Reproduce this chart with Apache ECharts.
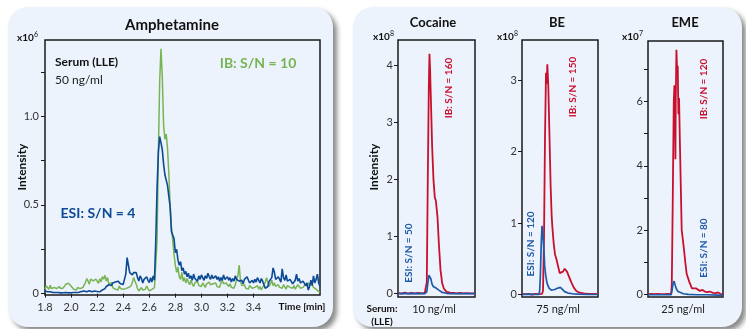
<!DOCTYPE html>
<html><head><meta charset="utf-8">
<script src="https://cdn.jsdelivr.net/npm/echarts@6/dist/echarts.min.js"></script>
<style>html,body{margin:0;padding:0;background:#fff}#c{width:746px;height:329px}</style>
</head><body><div id="c"></div>
<script>
// ---------- Amphetamine (x10^6) ----------
const ampTime = [1.80,1.81,1.82,1.83,1.84,1.85,1.86,1.87,1.88,1.89,
1.90,1.91,1.92,1.93,1.94,1.95,1.96,1.97,1.98,1.99,
2.00,2.01,2.02,2.03,2.04,2.05,2.06,2.07,2.08,2.09,
2.10,2.11,2.12,2.13,2.14,2.15,2.16,2.17,2.18,2.19,
2.20,2.21,2.22,2.23,2.24,2.25,2.26,2.27,2.28,2.29,
2.30,2.31,2.32,2.33,2.34,2.35,2.36,2.37,2.38,2.39,
2.40,2.41,2.42,2.43,2.44,2.45,2.46,2.47,2.48,2.49,
2.50,2.51,2.52,2.53,2.54,2.55,2.56,2.57,2.58,2.59,
2.60,2.61,2.62,2.63,2.64,2.65,2.66,2.67,2.68,2.69,
2.70,2.71,2.72,2.73,2.74,2.75,2.76,2.77,2.78,2.79,
2.80,2.81,2.82,2.83,2.84,2.85,2.86,2.87,2.88,2.89,
2.90,2.91,2.92,2.93,2.94,2.95,2.96,2.97,2.98,2.99,
3.00,3.01,3.02,3.03,3.04,3.05,3.06,3.07,3.08,3.09,
3.10,3.11,3.12,3.13,3.14,3.15,3.16,3.17,3.18,3.19,
3.20,3.21,3.22,3.23,3.24,3.25,3.26,3.27,3.28,3.29,
3.30,3.31,3.32,3.33,3.34,3.35,3.36,3.37,3.38,3.39,
3.40,3.41,3.42,3.43,3.44,3.45,3.46,3.47,3.48,3.49,
3.50,3.51,3.52,3.53,3.54,3.55,3.56,3.57,3.58,3.59,
3.60,3.61,3.62,3.63,3.64,3.65,3.66,3.67,3.68,3.69,
3.70,3.71,3.72,3.73,3.74,3.75,3.76,3.77,3.78,3.79,
3.80,3.81,3.82,3.83,3.84,3.85,3.86,3.87,3.88,3.89,
3.90,3.91];
const ampIB = [0.024,0.043,0.034,0.024,0.047,0.028,0.020,0.034,0.043,0.028,
0.024,0.040,0.028,0.020,0.032,0.043,0.053,0.043,0.058,0.047,
0.043,0.032,0.024,0.028,0.020,0.034,0.043,0.028,0.024,0.034,
0.043,0.062,0.084,0.071,0.053,0.081,0.090,0.071,0.062,0.081,
0.071,0.058,0.084,0.066,0.096,0.081,0.103,0.071,0.090,0.053,
0.043,0.062,0.034,0.043,0.024,0.034,0.020,0.043,0.028,0.024,
0.024,0.015,0.028,0.020,0.034,0.024,0.043,0.062,0.090,0.071,
0.053,0.028,0.015,0.024,0.034,0.020,0.009,0.024,0.043,0.028,
0.015,0.005,0.024,0.015,0.034,0.040,0.300,0.800,1.200,1.380,
1.220,0.950,0.870,0.900,0.820,0.680,0.500,0.380,0.300,0.220,
0.160,0.120,0.150,0.095,0.080,0.120,0.070,0.090,0.060,0.085,
0.065,0.050,0.075,0.055,0.040,0.060,0.050,0.070,0.045,0.055,
0.040,0.060,0.050,0.035,0.055,0.045,0.065,0.050,0.040,0.055,
0.045,0.060,0.040,0.050,0.035,0.060,0.075,0.055,0.045,0.060,
0.050,0.040,0.055,0.035,0.045,0.030,0.050,0.080,0.100,0.160,
0.070,0.045,0.035,0.050,0.030,0.040,0.025,0.045,0.035,0.030,
0.020,0.035,0.030,0.045,0.025,0.040,0.020,0.030,0.050,0.065,
0.090,0.060,0.040,0.055,0.075,0.045,0.060,0.040,0.030,0.050,
0.035,0.045,0.030,0.050,0.040,0.025,0.045,0.055,0.035,0.040,
0.030,0.045,0.025,0.035,0.050,0.040,0.030,0.020,0.035,0.040,
0.055,0.040,0.060,0.045,0.065,0.050,0.035,0.045,0.025,0.015,
0.010,0.008];
const ampESI = [0.015,0.012,0.010,0.008,0.010,0.007,0.006,0.008,0.006,0.005,
0.006,0.005,0.004,0.006,0.005,0.004,0.006,0.005,0.004,0.005,
0.005,0.004,0.006,0.008,0.006,0.005,0.007,0.010,0.012,0.010,
0.014,0.012,0.010,0.013,0.016,0.012,0.010,0.012,0.015,0.013,
0.012,0.015,0.010,0.018,0.020,0.015,0.028,0.040,0.035,0.050,
0.055,0.045,0.060,0.050,0.065,0.058,0.070,0.062,0.055,0.060,
0.052,0.045,0.110,0.203,0.160,0.118,0.110,0.105,0.118,0.110,
0.118,0.090,0.071,0.100,0.085,0.060,0.080,0.071,0.095,0.075,
0.062,0.090,0.065,0.100,0.075,0.300,0.600,0.800,0.885,0.850,
0.810,0.730,0.670,0.640,0.610,0.550,0.490,0.350,0.360,0.310,
0.230,0.250,0.190,0.160,0.180,0.130,0.145,0.110,0.125,0.095,
0.115,0.085,0.100,0.075,0.110,0.085,0.095,0.070,0.100,0.080,
0.105,0.090,0.075,0.100,0.085,0.115,0.095,0.080,0.105,0.085,
0.075,0.100,0.080,0.095,0.070,0.090,0.075,0.105,0.080,0.070,
0.095,0.075,0.090,0.065,0.085,0.070,0.100,0.080,0.090,0.070,
0.060,0.075,0.055,0.080,0.070,0.095,0.085,0.060,0.050,0.075,
0.060,0.080,0.065,0.090,0.075,0.060,0.085,0.070,0.050,0.030,
0.020,0.040,0.070,0.060,0.090,0.145,0.120,0.080,0.070,0.095,
0.080,0.065,0.140,0.090,0.075,0.105,0.070,0.060,0.080,0.070,
0.055,0.065,0.075,0.110,0.070,0.085,0.060,0.050,0.070,0.060,
0.045,0.060,0.020,0.040,0.075,0.045,0.100,0.060,0.080,0.110,
0.060,0.040];
const ampXLabels = [1.8,2.0,2.2,2.4,2.6,2.8,3.0,3.2,3.4];
const ampYTicks = [0,0.25,0.5,0.75,1.0,1.25];
const ampYLabels = [0,0.5,1.0];

// ---------- Cocaine (x10^8) ----------
const cocTime = [0,0.1,0.2,0.3,0.4,0.5,0.6,0.7,0.8,0.83,0.86,0.89,0.92,0.94,0.96,0.98,1.02,1.06,1.10,1.13,1.15,1.18,1.22,1.27,1.32,1.37,1.45,1.55,1.65,1.75,1.85,1.95,2.05,2.15,2.3];
const cocIB  = [0.01,0.0,0.015,0.0,0.01,0.005,0.01,0.005,0.01,0.01,0.2,2.0,3.6,4.2,3.9,3.45,2.57,1.99,1.68,1.63,1.62,1.34,0.88,0.41,0.18,0.09,0.03,0.015,0.01,0.005,0.01,0.005,0.008,0.005,0.005];
const cocESI = [0.005,0,0.005,0,0.005,0,0.005,0,0,0.0,0.03,0.18,0.32,0.35,0.33,0.26,0.16,0.12,0.11,0.10,0.09,0.08,0.06,0.035,0.02,0.01,0.005,0,0,0,0,0,0,0,0];
const cocYTicks = [0,1,2,3,4];

// ---------- BE (x10^8) ----------
const beIBTime = [0,0.1,0.2,0.3,0.4,0.5,0.6,0.63,0.66,0.69,0.72,0.74,0.76,0.79,0.82,0.86,0.89,0.91,0.95,0.99,1.03,1.08,1.13,1.18,1.23,1.28,1.31,1.35,1.41,1.48,1.55,1.63,1.73,1.85,2.0,2.15,2.28];
const beIB = [0.01,0.005,0.01,0.0,0.01,0.005,0.01,0.05,0.8,2.2,3.1,2.95,3.22,2.9,2.3,1.5,1.1,0.95,0.72,0.56,0.5,0.4,0.3,0.28,0.32,0.36,0.38,0.32,0.25,0.17,0.1,0.05,0.025,0.015,0.01,0.01,0.005];
const beESITime = [0,0.2,0.4,0.51,0.53,0.55,0.58,0.60,0.62,0.64,0.66,0.68,0.71,0.75,0.81,0.88,0.98,1.08,1.15,1.21,1.28,1.38,1.53,1.7,2.0,2.28];
const beESI = [0,0.005,0,0,0.05,0.25,0.75,0.96,0.95,0.75,0.6,0.4,0.27,0.16,0.09,0.06,0.07,0.09,0.1,0.08,0.04,0.02,0.01,0.005,0,0];
const beYTicks = [0,1,2,3];

// ---------- EME (x10^7) ----------
const emeIBTime = [0,0.1,0.2,0.3,0.4,0.5,0.6,0.7,0.72,0.75,0.78,0.80,0.82,0.83,0.84,0.86,0.88,0.90,0.92,0.94,0.96,0.99,1.02,1.05,1.09,1.13,1.17,1.21,1.25,1.29,1.33,1.39,1.45,1.51,1.57,1.65,1.72,1.79,1.87,1.97,2.05,2.12,2.19,2.27];
const emeIB = [0.02,0.03,0.02,0.03,0.02,0.02,0.03,0.02,0.3,3.0,6.0,6.5,5.5,4.2,6.0,7.6,7.0,7.1,5.6,6.1,5.0,3.5,2.0,1.75,1.4,1.0,0.65,0.6,0.4,0.3,0.2,0.18,0.2,0.15,0.12,0.15,0.1,0.08,0.1,0.06,0.05,0.07,0.03,0.0];
const emeESITime = [0,0.3,0.6,0.70,0.73,0.76,0.79,0.82,0.86,0.91,0.97,1.07,1.22,1.5,1.8,2.1,2.27];
const emeESI = [0,0,0,0.0,0.15,0.35,0.42,0.3,0.18,0.1,0.06,0.03,0.01,0.0,0.0,-0.01,-0.02];
const emeYTicks = [0,1,2,3,4,5,6,7];
const emeYLabels = [0,2,4,6];

// ---------- colours / fonts ----------
const FONT = 'Lato';
const cGreen = '#78b453', cBlueL = '#0c4a95', cRed = '#c8102e', cBlueR = '#1f5aa8';
const cTxt = '#333';

const zip = (t, v) => t.map((x, i) => [x, v[i]]);

const chart = echarts.init(document.getElementById('c'), null, {renderer: 'canvas'});

function gridBox(left, top, width, height) {
  return {left, top, width, height, show: true, borderColor: '#1a1a1a', borderWidth: 1.5, backgroundColor: 'transparent', containLabel: false};
}
function hiddenX(i, min, max) {
  return {type: 'value', gridIndex: i, min, max, axisLine: {show: false}, axisTick: {show: false}, axisLabel: {show: false}, splitLine: {show: false}};
}
function yAx(i, min, max, ticks, labels) {
  return {type: 'value', gridIndex: i, min, max,
    axisLine: {show: false}, splitLine: {show: false},
    axisTick: {show: true, length: 4, customValues: ticks, lineStyle: {color: '#1a1a1a', width: 1}},
    axisLabel: {show: true, customValues: labels, margin: 5, color: cTxt, fontSize: 11, fontFamily: FONT,
      formatter: v => String(v)}};
}
function line(xi, data, color, w) {
  return {type: 'line', xAxisIndex: xi, yAxisIndex: xi, data, showSymbol: false, symbol: 'none',
    lineStyle: {color, width: w || 1.5}, itemStyle: {color}, animation: false, z: 3};
}
function txt(x, y, text, opts) {
  opts = opts || {};
  return {type: 'text', x, y, rotation: opts.rot || 0, z: 20,
    style: {text, fill: opts.color || cTxt, font: (opts.weight || 'normal') + ' ' + (opts.size || 11) + 'px ' + FONT,
      textAlign: opts.align || 'center', textVerticalAlign: opts.valign || 'middle'}};
}
function mult(x, y, exp) {
  return [txt(x, y, 'x10', {weight: 'bold', size: 10, align: 'left', color: '#111'}),
          txt(x + 17, y - 3, exp, {weight: 'normal', size: 7, align: 'left', color: '#111'})];
}

const option = {
  backgroundColor: '#ffffff',
  animation: false,
  grid: [
    gridBox(45, 40, 275, 255),
    gridBox(398, 40, 77, 257),
    gridBox(522, 40, 76, 257),
    gridBox(648, 41, 75, 256)
  ],
  xAxis: [
    {type: 'value', gridIndex: 0, min: 1.8, max: 3.91,
      axisLine: {show: false}, splitLine: {show: false},
      axisTick: {show: true, length: 4, customValues: ampXLabels, lineStyle: {color: '#1a1a1a'}},
      axisLabel: {show: true, customValues: ampXLabels, margin: 7, color: cTxt, fontSize: 11, fontFamily: FONT, formatter: v => v.toFixed(1)}},
    hiddenX(1, 0, 2.3),
    hiddenX(2, 0, 2.28),
    hiddenX(3, 0, 2.27)
  ],
  yAxis: [
    {type: 'value', gridIndex: 0, min: -0.008, max: 1.43,
      axisLine: {show: false}, splitLine: {show: false},
      axisTick: {show: true, length: 4, customValues: ampYTicks, lineStyle: {color: '#1a1a1a'}},
      axisLabel: {show: true, customValues: ampYLabels, margin: 6, color: cTxt, fontSize: 11, fontFamily: FONT, formatter: v => (v === 0 ? '0' : v.toFixed(1))}},
    yAx(1, -0.06, 4.44, cocYTicks, cocYTicks),
    yAx(2, -0.035, 3.56, beYTicks, beYTicks),
    yAx(3, -0.07, 7.87, emeYTicks, emeYLabels)
  ],
  series: [
    line(0, zip(ampTime, ampIB), cGreen, 1.5),
    line(0, zip(ampTime, ampESI), cBlueL, 1.6),
    line(1, zip(cocTime, cocIB), cRed, 1.8),
    line(1, zip(cocTime, cocESI), cBlueR, 1.7),
    line(2, zip(beIBTime, beIB), cRed, 1.8),
    line(2, zip(beESITime, beESI), cBlueR, 1.7),
    line(3, zip(emeIBTime, emeIB), cRed, 1.8),
    line(3, zip(emeESITime, emeESI), cBlueR, 1.7)
  ],
  graphic: [
    {type: 'rect', z: -10, shape: {x: 8, y: 7, width: 325, height: 320, r: 20},
      style: {fill: '#edf3fc', shadowBlur: 5, shadowOffsetX: 4, shadowOffsetY: 4, shadowColor: 'rgba(60,60,60,0.6)'}},
    {type: 'rect', z: -10, shape: {x: 353, y: 7, width: 389, height: 320, r: 20},
      style: {fill: '#edf3fc', shadowBlur: 5, shadowOffsetX: 4, shadowOffsetY: 4, shadowColor: 'rgba(60,60,60,0.6)'}},
    // left panel texts
    txt(172, 25, 'Amphetamine', {weight: 'bold', size: 15, color: '#111'}),
    ...mult(17, 38, '6'),
    txt(22, 167, 'Intensity', {weight: 'bold', size: 12, rot: Math.PI / 2, color: '#111'}),
    txt(55, 62, 'Serum (LLE)', {weight: 'bold', size: 12, align: 'left', color: '#111'}),
    txt(55, 80, '50 ng/ml', {size: 12, align: 'left', color: '#222'}),
    txt(258, 63, 'IB: S/N = 10', {weight: 'bold', size: 14, color: cGreen}),
    txt(98, 213, 'ESI: S/N = 4', {weight: 'bold', size: 14, color: cBlueL}),
    txt(302, 307, 'Time [min]', {weight: 'bold', size: 10, color: '#111'}),
    // right panel texts
    txt(433, 23, 'Cocaine', {weight: 'bold', size: 13, color: '#111'}),
    txt(557, 23, 'BE', {weight: 'bold', size: 13, color: '#111'}),
    txt(685, 23, 'EME', {weight: 'bold', size: 13, color: '#111'}),
    ...mult(373, 37, '8'),
    ...mult(497, 37, '8'),
    ...mult(622, 37, '7'),
    txt(374, 167, 'Intensity', {weight: 'bold', size: 12, rot: Math.PI / 2, color: '#111'}),
    txt(449, 88, 'IB: S/N = 160', {weight: 'bold', size: 10, rot: Math.PI / 2, color: cRed}),
    txt(409, 253, 'ESI: S/N = 50', {weight: 'bold', size: 10, rot: Math.PI / 2, color: cBlueR}),
    txt(573, 87, 'IB: S/N = 150', {weight: 'bold', size: 10, rot: Math.PI / 2, color: cRed}),
    txt(531, 244, 'ESI: S/N = 120', {weight: 'bold', size: 10, rot: Math.PI / 2, color: cBlueR}),
    txt(704, 89, 'IB: S/N = 120', {weight: 'bold', size: 10, rot: Math.PI / 2, color: cRed}),
    txt(704, 248, 'ESI: S/N = 80', {weight: 'bold', size: 10, rot: Math.PI / 2, color: cBlueR}),
    txt(382, 309, 'Serum:', {weight: 'bold', size: 10, color: '#111'}),
    txt(382, 322, '(LLE)', {weight: 'bold', size: 10, color: '#111'}),
    txt(434, 309, '10 ng/ml', {size: 11, color: '#222'}),
    txt(558, 309, '75 ng/ml', {size: 11, color: '#222'}),
    txt(683, 309, '25 ng/ml', {size: 11, color: '#222'})
  ]
};
chart.setOption(option);
</script>
</body></html>
